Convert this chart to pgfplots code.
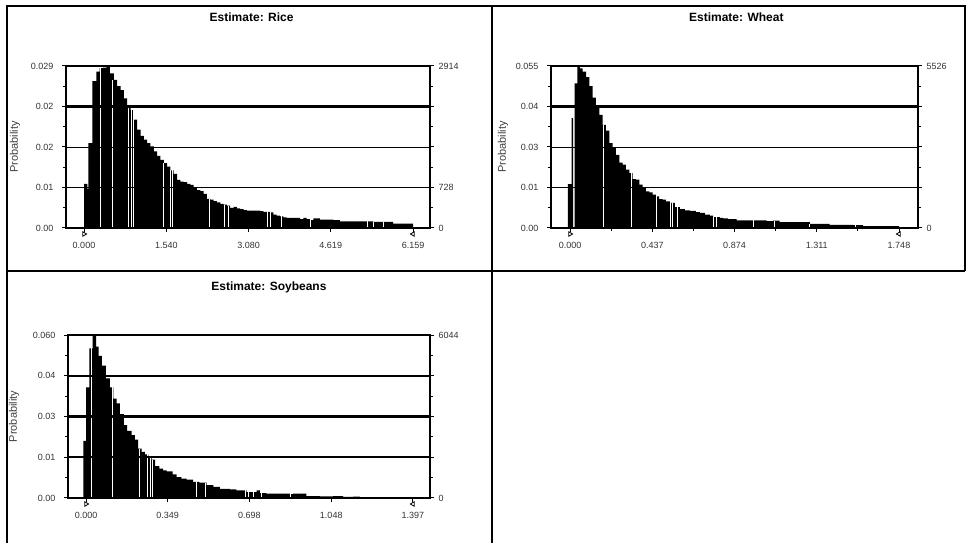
\documentclass[border=0pt]{standalone}
\usepackage{fontspec}
\setmainfont{Liberation Sans}
\usepackage{pgfplots}
\pgfplotsset{compat=1.18}
\usepackage{pgfplotstable}

% bar outlines as step points: left edge, height
\pgfplotstableread{
x y
0.000 0.0079
0.062 0.0070
0.081 0.0152
0.156 0.0263
0.230 0.0280
0.292 0.0286
0.355 0.0287
0.423 0.0290
0.485 0.0277
0.560 0.0265
0.622 0.0254
0.684 0.0247
0.747 0.0232
0.809 0.0217
0.871 0.0211
0.933 0.0194
0.995 0.0176
1.058 0.0165
1.120 0.0158
1.182 0.0152
1.244 0.0146
1.306 0.0137
1.369 0.0129
1.431 0.0122
1.493 0.0116
1.555 0.0110
1.617 0.0103
1.680 0.0097
1.742 0.0086
1.804 0.0083
1.866 0.0082
1.929 0.0079
1.991 0.0077
2.053 0.0073
2.115 0.0068
2.177 0.0066
2.240 0.0061
2.302 0.0052
2.364 0.0051
2.426 0.0048
2.488 0.0046
2.551 0.0043
2.613 0.0042
2.675 0.0040
2.737 0.0036
2.799 0.0038
2.862 0.0035
2.924 0.0034
2.986 0.0032
3.048 0.0031
3.297 0.0030
3.359 0.0029
3.484 0.0028
3.546 0.0024
3.608 0.0022
3.670 0.0021
3.733 0.0019
3.795 0.0018
4.044 0.0016
4.106 0.0018
4.168 0.0016
4.230 0.0014
4.293 0.0017
4.417 0.0015
4.666 0.0014
4.790 0.0012
5.412 0.0011
5.786 0.0008
6.159 0
}\rice
\pgfplotstableread{
x y
0.311 0.0286
0.541 0.0265
0.834 0.0217
0.883 0.0211
0.921 0.0211
1.493 0.0116
1.617 0.0103
1.655 0.0103
2.352 0.0052
2.625 0.0042
2.700 0.0040
3.434 0.0029
3.496 0.0028
3.701 0.0021
4.230 0.0014
5.300 0.0012
5.420 0.0011
5.600 0.0011
}\ricegaps

\pgfplotstableread{
x y
-0.012 0.0149
0.009 0.0373
0.016 0
0.025 0.0491
0.039 0.0550
0.053 0.0542
0.067 0.0531
0.085 0.0512
0.103 0.0482
0.120 0.0443
0.138 0.0412
0.156 0.0384
0.173 0.0350
0.191 0.0331
0.209 0.0288
0.226 0.0274
0.244 0.0248
0.262 0.0222
0.280 0.0215
0.297 0.0198
0.315 0.0186
0.333 0.0166
0.350 0.0164
0.368 0.0147
0.386 0.0136
0.403 0.0124
0.421 0.0121
0.439 0.0113
0.456 0.0107
0.474 0.0098
0.492 0.0096
0.509 0.0090
0.531 0.0085
0.557 0.0071
0.584 0.0064
0.610 0.0060
0.637 0.0058
0.669 0.0054
0.690 0.0051
0.716 0.0045
0.743 0.0042
0.761 0.0037
0.796 0.0034
0.814 0.0033
0.840 0.0030
0.885 0.0026
1.044 0.0023
1.079 0.0025
1.114 0.0020
1.274 0.0014
1.380 0.0011
1.504 0.0010
1.557 0.0006
1.748 0
}\wheat
\pgfplotstableread{
x y
0.177 0.0350
0.326 0.0186
0.460 0.0107
0.531 0.0085
0.545 0.0085
0.570 0.0071
0.761 0.0037
0.778 0.0037
0.976 0.0026
1.088 0.0025
1.274 0.0014
1.518 0.0010
}\wheatgaps

\pgfplotstableread{
x y
-0.011 0.0210
0.000 0.0407
0.014 0.0551
0.028 0.0600
0.043 0.0557
0.054 0.0523
0.068 0.0487
0.085 0.0440
0.102 0.0407
0.117 0.0366
0.131 0.0348
0.145 0.0309
0.162 0.0268
0.176 0.0247
0.195 0.0231
0.209 0.0215
0.223 0.0182
0.238 0.0170
0.252 0.0161
0.266 0.0151
0.280 0.0141
0.295 0.0117
0.313 0.0108
0.330 0.0102
0.344 0.0098
0.370 0.0087
0.387 0.0077
0.408 0.0071
0.430 0.0068
0.458 0.0059
0.484 0.0057
0.515 0.0047
0.544 0.0041
0.572 0.0034
0.615 0.0032
0.643 0.0028
0.686 0.0022
0.729 0.0028
0.743 0.0018
0.771 0.0016
0.871 0.0014
0.885 0.0016
0.942 0.0007
0.999 0.0006
1.056 0.0007
1.099 0.0004
1.141 0.0005
1.170 0
1.397 0
}\soy
\pgfplotstableread{
x y
0.024 0.0600
0.112 0.0407
0.228 0.0182
0.263 0.0161
0.276 0.0151
0.285 0.0141
0.472 0.0059
0.512 0.0057
0.683 0.0028
0.693 0.0022
0.714 0.0022
0.750 0.0018
0.874 0.0014
}\soygaps

\tikzset{
  rlab/.style={anchor=west, xshift=5pt, font=\fontsize{9}{10}\selectfont, text=black!80},
}
\pgfplotsset{
  cbhist/.style={
    scale only axis, anchor=south west,
    axis on top, clip=false,
    scaled ticks=false,
    axis line style={line width=1.2pt},
    tick align=outside,
    xtick pos=bottom, ytick pos=both,
    yticklabel pos=left,
    major tick length=4pt, minor tick length=3pt,
    tick style={black, line width=1pt},
    minor x tick num=1, minor y tick num=1,
    ymajorgrids, major grid style={black, line width=0.9pt},
    ymin=0,
    tick label style={font=\fontsize{9}{10}\selectfont, text=black!80},
    xticklabel style={yshift=-7pt},
    yticklabel style={xshift=-5pt},
    ylabel={Probability},
    ylabel style={at={(axis description cs:-0.14,0.5)}, anchor=center,
      font=\fontsize{11}{12}\selectfont, text=black!75},
    title style={at={(axis description cs:0.51,1.265)}, anchor=center,
      font=\bfseries\fontsize{12}{14}\selectfont},
  },
  bars/.style={fill=black, draw=none, const plot mark left},
  gaps/.style={ycomb, white, line width=0.9pt},
  grabL/.style={only marks, mark=triangle, mark size=2.6pt,
    mark options={yshift=-6pt, rotate=-90, line width=0.8pt, black, fill=white}},
  grabR/.style={only marks, mark=triangle, mark size=2.6pt,
    mark options={yshift=-6pt, rotate=90, line width=0.8pt, black, fill=white}},
}

\begin{document}
\begin{tikzpicture}[x=1pt, y=1pt]
\path[use as bounding box] (0,0) rectangle (966,543);

% Rice
\begin{axis}[cbhist, at={(66pt,315pt)}, width=364pt, height=162pt,
  title={Estimate: Rice},
  xmin=-0.337, xmax=6.477, ymax=0.029,
  xtick={0,1.540,3.080,4.619,6.159},
  xticklabels={0.000,1.540,3.080,4.619,6.159},
  ytick={0,0.00725,0.0145,0.02175,0.029},
  yticklabels={0.00,0.01,0.02,0.02,0.029},
  extra y ticks={0.02175}, extra y tick labels={},
  extra y tick style={major grid style={black, line width=2.4pt}},
]
\addplot[bars] table {\rice} \closedcycle;
\addplot[gaps] table {\ricegaps};
\addplot[grabL] coordinates {(0,0)};
\addplot[grabR] coordinates {(6.159,0)};
\node[rlab] at (rel axis cs:1,1) {2914};
\node[rlab] at (rel axis cs:1,0.25) {728};
\node[rlab] at (rel axis cs:1,0) {0};
\end{axis}

% Wheat
\begin{axis}[cbhist, at={(551pt,315pt)}, width=367pt, height=162pt,
  title={Estimate: Wheat},
  title style={at={(axis description cs:0.505,1.265)}},
  ylabel style={at={(axis description cs:-0.131,0.5)}},
  xmin=-0.101, xmax=1.849, ymax=0.055,
  xtick={0,0.437,0.874,1.311,1.748},
  xticklabels={0.000,0.437,0.874,1.311,1.748},
  ytick={0,0.01375,0.0275,0.04125,0.055},
  yticklabels={0.00,0.01,0.03,0.04,0.055},
  extra y ticks={0.04125}, extra y tick labels={},
  extra y tick style={major grid style={black, line width=2.4pt}},
]
\addplot[bars] table {\wheat} \closedcycle;
\addplot[gaps] table {\wheatgaps};
\addplot[grabL] coordinates {(0,0)};
\addplot[grabR] coordinates {(1.748,0)};
\node[rlab] at (rel axis cs:1,1) {5526};
\node[rlab] at (rel axis cs:1,0) {0};
\end{axis}

% Soybeans
\begin{axis}[cbhist, at={(68pt,45pt)}, width=362pt, height=163pt,
  title={Estimate: Soybeans},
  title style={at={(axis description cs:0.555,1.258)}},
  ylabel style={at={(axis description cs:-0.149,0.5)}},
  major grid style={black, line width=2.4pt},
  xmin=-0.077, xmax=1.470, ymax=0.060,
  xtick={0,0.349,0.698,1.048,1.397},
  xticklabels={0.000,0.349,0.698,1.048,1.397},
  ytick={0,0.015,0.030,0.045,0.060},
  yticklabels={0.00,0.01,0.03,0.04,0.060},
]
\addplot[bars] table {\soy} \closedcycle;
\addplot[gaps] table {\soygaps};
\addplot[grabL] coordinates {(0,0)};
\addplot[grabR] coordinates {(1.397,0)};
\node[rlab] at (rel axis cs:1,1) {6044};
\node[rlab] at (rel axis cs:1,0) {0};
\end{axis}

% panel frames
\draw[line width=1.5pt] (7,0) -- (7,537) -- (965,537) -- (965,272);
\draw[line width=1.5pt] (7,272) -- (965,272);
\draw[line width=1.5pt] (492,0) -- (492,537);
\end{tikzpicture}
\end{document}
